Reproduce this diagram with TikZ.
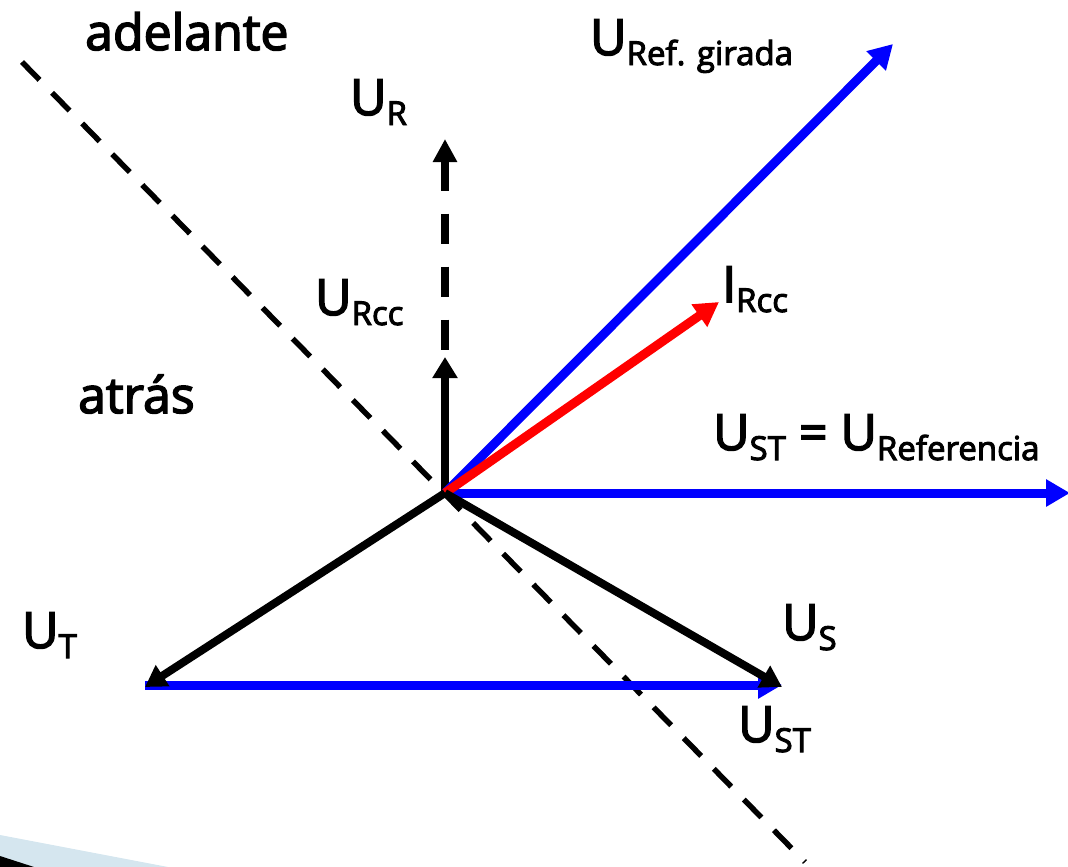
\documentclass[tikz,border=0pt]{standalone}
\usepackage{fontspec}
\setmainfont{Open Sans}[UprightFeatures={FakeBold=3}]
\usetikzlibrary{arrows.meta}
\definecolor{vblue}{RGB}{0,0,255}
\definecolor{vred}{RGB}{255,0,0}
\definecolor{decoblue}{RGB}{213,230,239}
\newcommand\lbl[2]{#1\raisebox{-10bp}{\fontsize{33bp}{33bp}\selectfont #2}}
\tikzset{
  lab/.style={font=\fontsize{50bp}{58bp}\selectfont, inner sep=0pt, anchor=base west},
  bluevec/.style={draw=vblue, line width=9bp, -{Triangle[length=24bp,width=26bp]}},
  redvec/.style={draw=vred, line width=9bp, -{Triangle[length=24bp,width=26bp]}},
  blackvec/.style={draw=black, line width=8bp, -{Triangle[length=21bp,width=24bp]}},
  dashvec/.style={draw=black, line width=8.5bp, dash pattern=on 30bp off 23bp, {Triangle[length=23bp,width=23bp]}-},
  axisline/.style={draw=black, line width=5.5bp, dash pattern=on 25bp off 18bp},
}
\begin{document}
\begin{tikzpicture}[x=1bp,y=-1bp]
\useasboundingbox (0,0) rectangle (1068,867);
% slide decoration
\fill[decoblue] (0,835) -- (168,867) -- (0,867) -- cycle;
\fill[black] (0,856) -- (34,867) -- (0,867) -- cycle;

\coordinate (O) at (445,493);
\coordinate (dA) at (22,62);
\coordinate (dB) at (805,862);
\coordinate (Rtip) at (445,139);
\coordinate (Rcc) at (445,357);
\coordinate (Girada) at (893,44);
\coordinate (Irc) at (719,302);
\coordinate (Ref) at (1070,493);
\coordinate (T) at (145,685);
\coordinate (S) at (782,685);

% dashed boundary line
\draw[axisline] (dA) -- (dB);
% U_R dashed
\draw[dashvec] (Rtip) -- (O);
% U_Rcc
\draw[blackvec] (O) -- (Rcc);
% blue vectors
\draw[bluevec] (O) -- (Girada);
\draw[bluevec] (O) -- (Ref);
\draw[redvec] (O) -- (Irc);
% triangle
\draw[bluevec] (T) -- (S);
\draw[blackvec] (O) -- ([yshift=-2bp]T);
\draw[blackvec] (O) -- ([yshift=-2bp]S);

% labels
\node[lab] (adel) at (85,50) {adelante};
\node[lab] (lgir) at (590,55) {\lbl{U}{Ref. girada}};
\node[lab] (lR) at (350,115) {\lbl{U}{R}};
\node[lab] (lRcc) at (315,315) {\lbl{U}{Rcc}};
\node[lab] (lIrc) at (722,302) {\lbl{I}{Rcc}};
\node[lab] (atras) at (78,413) {atrás};
\node[lab] (lref) at (713,450) {\lbl{U}{ST} = \lbl{U}{Referencia}};
\node[lab] (lT) at (22,648) {\lbl{U}{T}};
\node[lab] (lS) at (782,640) {\lbl{U}{S}};
\node[lab] (lST) at (738,742) {\lbl{U}{ST}};
\end{tikzpicture}
\end{document}
